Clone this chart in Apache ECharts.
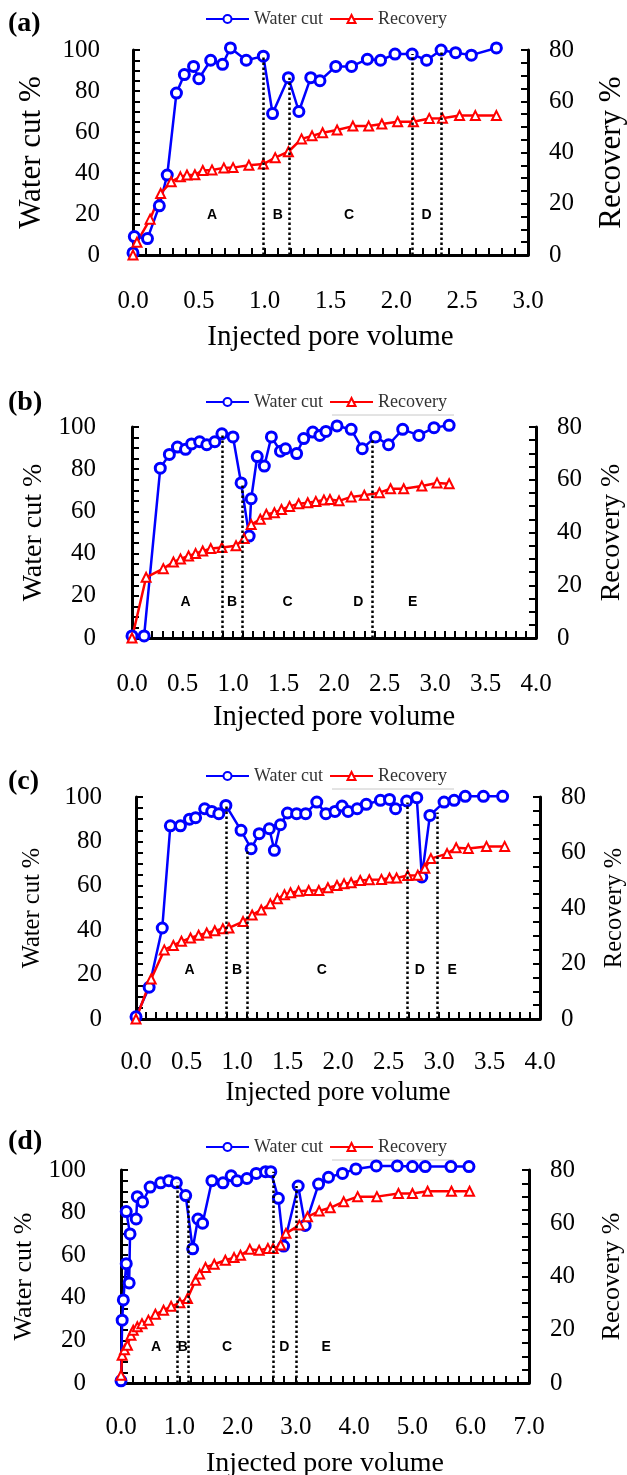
<!DOCTYPE html>
<html>
<head>
<meta charset="utf-8">
<script src="https://cdn.jsdelivr.net/npm/echarts@6/dist/echarts.min.js"></script>
<style>
  html, body { margin: 0; padding: 0; background: #fff; }
  .panel { position: absolute; left: 0; width: 627px; }
</style>
</head>
<body>
<div id="pa" class="panel" style="top:0;height:370px"></div>
<div id="pb" class="panel" style="top:370px;height:370px"></div>
<div id="pc" class="panel" style="top:740px;height:370px"></div>
<div id="pd" class="panel" style="top:1110px;height:365px"></div>
<script>
// ---- data: [injected PV, value] ----
var waterA = [[0,1],[0.01,9],[0.11,8],[0.2,24],[0.26,39],[0.33,79],[0.39,88],[0.46,92],[0.5,86],[0.59,95],[0.68,93],[0.74,101],[0.86,95],[0.99,97],[1.06,69],[1.18,86.5],[1.26,70],[1.35,86.5],[1.42,85],[1.54,92],[1.66,92],[1.78,95.5],[1.88,95],[1.99,98],[2.12,98],[2.23,95],[2.34,100],[2.45,98.7],[2.57,97.5],[2.76,101]];
var recA = [[0,0],[0.03,5],[0.13,14],[0.21,24],[0.29,28.6],[0.36,30.5],[0.41,31.2],[0.47,31.3],[0.53,33],[0.6,33.2],[0.69,34],[0.76,34.1],[0.88,35],[0.99,35.5],[1.08,38],[1.18,40.3],[1.28,45.3],[1.36,46.5],[1.44,47.7],[1.55,48.8],[1.67,50.3],[1.79,50.3],[1.89,51.1],[2.01,52],[2.13,52],[2.25,53.3],[2.35,53.4],[2.48,54.4],[2.6,54.4],[2.76,54.4]];
var boundsA = [0.99, 1.19, 2.12, 2.34];
var boundTopsA = [97, 86.5, 98, 100];
var zonesA = ['A', 'B', 'C', 'D'];
var zoneXA = [0.60, 1.10, 1.64, 2.23];

var waterB = [[0,1],[0.12,1],[0.28,80.5],[0.37,87],[0.45,90.5],[0.53,89.4],[0.59,92],[0.67,93],[0.74,91.6],[0.82,93],[0.89,96.8],[1.0,95.3],[1.08,73.5],[1.16,48.3],[1.18,66],[1.24,86],[1.31,81.5],[1.38,95.3],[1.47,88.5],[1.52,89.7],[1.63,87.4],[1.7,94.5],[1.79,97.6],[1.86,96],[1.92,97.9],[2.03,100.5],[2.17,98.9],[2.28,89.7],[2.41,95.3],[2.54,91.6],[2.68,98.9],[2.84,96],[2.99,99.7],[3.14,100.8]];
var recB = [[0,0],[0.14,23],[0.31,26.3],[0.41,28.8],[0.48,30],[0.56,31.1],[0.63,32],[0.7,33],[0.78,33.9],[0.89,34.3],[1.03,35],[1.11,37.7],[1.18,43],[1.27,45],[1.33,46.9],[1.41,47.5],[1.48,48.7],[1.56,49.9],[1.65,50.9],[1.74,51.3],[1.82,51.8],[1.9,52.3],[1.96,52.5],[2.05,52],[2.17,53.5],[2.3,54.1],[2.45,55.1],[2.56,56.6],[2.69,56.6],[2.87,57.6],[3.02,58.8],[3.14,58.5]];
var boundsB = [0.89, 1.09, 2.05, 2.38, 3.15];
var boundTopsB = [96.8, 73.5, 100.5, 94, 100.8];
var zonesB = ['A', 'B', 'C', 'D', 'E'];
var zoneXB = [0.53, 0.99, 1.54, 2.24, 2.78];

var waterC = [[0,1],[0.13,14.3],[0.26,41],[0.34,87],[0.44,87],[0.53,90],[0.59,90.7],[0.68,94.7],[0.75,93.5],[0.82,92.5],[0.89,96.2],[1.04,85],[1.14,76.7],[1.22,83.5],[1.32,85.7],[1.37,76],[1.43,87.5],[1.5,92.8],[1.59,92.5],[1.68,92.5],[1.79,97.7],[1.88,92.5],[1.97,93.5],[2.04,95.9],[2.1,93.5],[2.19,94.7],[2.28,96.7],[2.42,98.5],[2.51,98.9],[2.57,94.7],[2.68,98.2],[2.78,99.7],[2.83,64],[2.91,91.7],[3.05,97.7],[3.15,98.5],[3.26,100.3],[3.44,100.3],[3.63,100.3]];
var recC = [[0,0],[0.15,14.4],[0.28,24.9],[0.37,26.5],[0.45,28],[0.54,29.2],[0.62,30.2],[0.7,31],[0.78,31.8],[0.86,32.5],[0.92,32.8],[1.06,35.1],[1.15,37.5],[1.24,39.3],[1.33,41.5],[1.4,43.3],[1.47,44.8],[1.53,45.5],[1.61,46],[1.71,46.3],[1.81,46.3],[1.9,47.3],[1.99,48.1],[2.06,48.7],[2.13,49.1],[2.22,49.9],[2.31,50.2],[2.43,50.3],[2.51,50.8],[2.58,50.8],[2.69,51.7],[2.79,51.8],[2.86,54.3],[2.92,57.8],[3.08,59.6],[3.17,61.7],[3.29,61.4],[3.47,62.2],[3.65,62.2]];
var boundsC = [0.89, 1.10, 2.69, 2.98, 3.27];
var boundTopsC = [96.2, 76.7, 97.5, 93, 100.3];
var zonesC = ['A', 'B', 'C', 'D', 'E'];
var zoneXC = [0.53, 1.0, 1.84, 2.81, 3.13];

var waterD = [[0,1],[0.02,29.5],[0.04,39],[0.09,56],[0.14,47],[0.155,70],[0.09,80.5],[0.26,77],[0.28,87.5],[0.37,85],[0.5,92],[0.68,94],[0.82,95],[0.95,94],[1.11,88],[1.23,63],[1.32,77],[1.4,75],[1.56,95],[1.75,94],[1.89,97.3],[1.99,95],[2.16,96],[2.32,98.4],[2.48,99.2],[2.57,99.2],[2.7,86.7],[2.79,64.3],[3.04,92.5],[3.16,74],[3.39,93.4],[3.56,96.6],[3.8,98.4],[4.03,100.5],[4.38,101.9],[4.74,101.9],[5.0,101.6],[5.22,101.6],[5.66,101.6],[5.97,101.6]];
var recD = [[0,2.9],[0.02,10.4],[0.06,12.5],[0.11,14.2],[0.17,17.9],[0.21,19.8],[0.28,21.1],[0.36,22.3],[0.47,23.6],[0.59,25.8],[0.73,27.3],[0.86,28.8],[1.01,30.1],[1.14,31.7],[1.28,38.6],[1.35,40.9],[1.45,43.4],[1.6,44.6],[1.79,46.1],[1.94,47.1],[2.05,48],[2.21,50.2],[2.37,49.9],[2.52,50.5],[2.61,50.5],[2.74,51.8],[2.83,56.2],[3.06,59.3],[3.2,62.4],[3.4,64.6],[3.59,65.8],[3.82,68.1],[4.06,70],[4.39,70],[4.76,71.2],[5.0,71.2],[5.26,72],[5.67,72],[5.98,72]];
var boundsD = [0.96, 1.16, 2.61, 3.0, 4.06];
var boundTopsD = [94, 87, 99.2, 92.5, 100.5];
var zonesD = ['A', 'B', 'C', 'D', 'E'];
var zoneXD = [0.60, 1.06, 1.82, 2.80, 3.52];

var SERIF = '"Liberation Serif", "Times New Roman", serif';

function drawPanel(domId, tag, water, rec, bounds, boundTops, zones, zoneX, p) {
    var chart = echarts.init(document.getElementById(domId));

    var boundaryLines = bounds.map(function (x, i) {
        return [{coord: [x, 0]}, {coord: [x, boundTops[i]]}];
    });
    var zoneLabels = zones.map(function (z, i) {
        return {name: z, coord: [zoneX[i], p.zoneY]};
    });

    var axisLine = {show: true, lineStyle: {color: '#000', width: 3}};
    var tick = {show: true, inside: true, length: 7, lineStyle: {color: '#000', width: 2}};
    var minor = function (n) {
        return {show: true, splitNumber: n, length: 7, lineStyle: {color: '#000', width: 2}};
    };
    var nameStyle = function (size) {
        return {fontFamily: SERIF, fontSize: size, color: '#000', lineHeight: size};
    };

    var graphics = [{
        type: 'text', left: 8, top: p.tagTop,
        style: {text: tag, font: 'bold 28px ' + SERIF, fill: '#000'}
    }];
    if (p.greyLine) {
        graphics.push({
            type: 'line', shape: {x1: 332, y1: p.greyLine, x2: 454, y2: p.greyLine},
            style: {stroke: '#c8c8c8', lineWidth: 1}
        });
    }

    chart.setOption({
        animation: false,
        backgroundColor: '#fff',
        graphic: graphics,
        legend: {
            top: p.legendTop,
            left: 205,
            padding: 0,
            itemWidth: 43,
            itemHeight: 10,
            itemGap: 6,
            textStyle: {fontFamily: SERIF, fontSize: 18, color: '#333'},
            data: ['Water cut', 'Recovery']
        },
        grid: {
            left: p.left, right: p.right, top: p.top, height: p.height,
            containLabel: false,
            outerBoundsMode: 'none'
        },
        xAxis: {
            type: 'value',
            min: 0,
            max: p.xMax,
            interval: p.xStep,
            name: 'Injected pore volume',
            nameLocation: 'middle',
            nameGap: p.xNameGap,
            nameTextStyle: nameStyle(p.xNameSize),
            axisLine: axisLine,
            axisTick: tick,
            minorTick: minor(5),
            splitLine: {show: false},
            axisLabel: {
                margin: p.xLabelMargin,
                fontFamily: SERIF, fontSize: 25, color: '#000',
                formatter: function (v) { return v.toFixed(1); }
            }
        },
        yAxis: [{
            type: 'value',
            min: 0, max: 100, interval: 20,
            position: 'left',
            name: 'Water cut %',
            nameLocation: 'middle',
            nameRotate: 90,
            nameGap: p.yNameGap,
            nameTextStyle: nameStyle(p.yNameSize),
            axisLine: axisLine,
            axisTick: tick,
            minorTick: minor(4),
            splitLine: {show: false},
            axisLabel: {margin: p.yLabelMargin, fontFamily: SERIF, fontSize: 25, color: '#000'}
        }, {
            type: 'value',
            min: 0, max: 80, interval: 20,
            position: 'right',
            name: 'Recovery %',
            nameLocation: 'middle',
            nameRotate: 90,
            nameGap: p.rNameGap,
            nameTextStyle: nameStyle(p.yNameSize),
            axisLine: axisLine,
            axisTick: tick,
            minorTick: minor(4),
            splitLine: {show: false},
            axisLabel: {margin: 21, fontFamily: SERIF, fontSize: 25, color: '#000'}
        }],
        series: [{
            name: 'Water cut',
            type: 'line',
            yAxisIndex: 0,
            data: water,
            clip: false,
            symbol: 'circle',
            symbolSize: 10,
            lineStyle: {color: '#0000ff', width: 2.5},
            itemStyle: {color: '#fff', borderColor: '#0000ff', borderWidth: 3},
            markLine: {
                silent: true,
                symbol: ['none', 'none'],
                label: {show: false},
                lineStyle: {color: '#000', width: 2.5, type: 'dotted'},
                data: boundaryLines
            },
            markPoint: {
                silent: true,
                symbol: 'circle',
                symbolSize: 1,
                itemStyle: {color: 'rgba(0,0,0,0)', borderWidth: 0},
                label: {
                    show: true, position: 'inside', formatter: '{b}',
                    color: '#000', fontWeight: 'bold', fontSize: 14,
                    fontFamily: '"Liberation Sans", Arial, sans-serif'
                },
                data: zoneLabels
            }
        }, {
            name: 'Recovery',
            type: 'line',
            yAxisIndex: 1,
            data: rec,
            clip: false,
            symbol: 'triangle',
            symbolSize: 9,
            lineStyle: {color: '#ff0000', width: 2.5},
            itemStyle: {color: '#fff', borderColor: '#ff0000', borderWidth: 2}
        }]
    });
}

drawPanel('pa', '(a)', waterA, recA, boundsA, boundTopsA, zonesA, zoneXA, {
    left: 133, right: 99, top: 50, height: 205, xMax: 3, xStep: 0.5,
    xNameSize: 29, xNameGap: 68, xLabelMargin: 34,
    yNameSize: 31, yNameGap: 86, rNameGap: 68, yLabelMargin: 33,
    legendTop: 10, tagTop: 10, zoneY: 19.5, greyLine: null
});
drawPanel('pb', '(b)', waterB, recB, boundsB, boundTopsB, zonesB, zoneXB, {
    left: 132, right: 91, top: 57, height: 211, xMax: 4, xStep: 0.5,
    xNameSize: 28.5, xNameGap: 65, xLabelMargin: 34,
    yNameSize: 28, yNameGap: 84, rNameGap: 62, yLabelMargin: 36,
    legendTop: 23, tagTop: 19, zoneY: 17, greyLine: 45
});
drawPanel('pc', '(c)', waterC, recC, boundsC, boundTopsC, zonesC, zoneXC, {
    left: 136, right: 87, top: 57, height: 222, xMax: 4, xStep: 0.5,
    xNameSize: 26.5, xNameGap: 61, xLabelMargin: 31,
    yNameSize: 24.5, yNameGap: 91, rNameGap: 62, yLabelMargin: 34,
    legendTop: 27, tagTop: 28, zoneY: 21.8, greyLine: 49
});
drawPanel('pd', '(d)', waterD, recD, boundsD, boundTopsD, zonesD, zoneXD, {
    left: 121, right: 98, top: 60, height: 213, xMax: 7, xStep: 1,
    xNameSize: 28, xNameGap: 67, xLabelMargin: 32,
    yNameSize: 26, yNameGap: 75, rNameGap: 70, yLabelMargin: 35,
    legendTop: 28, tagTop: 18, zoneY: 17, greyLine: 50
});
</script>
</body>
</html>
